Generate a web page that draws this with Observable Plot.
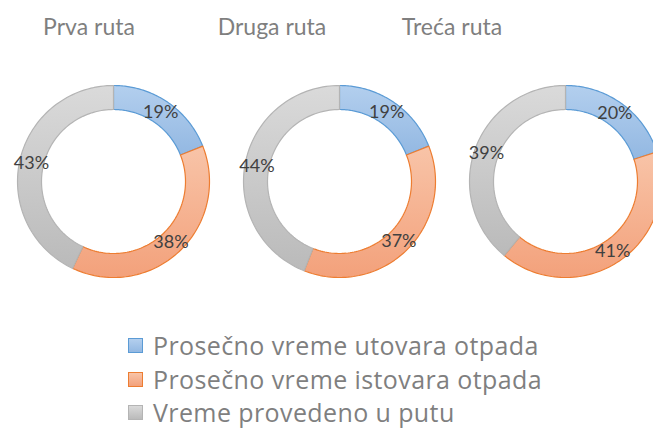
<!DOCTYPE html>
<html>
<head>
<meta charset="utf-8">
<script src="https://cdn.jsdelivr.net/npm/d3@7"></script>
<script src="https://cdn.jsdelivr.net/npm/@observablehq/plot@0.6"></script>
<style>
  html, body { margin: 0; padding: 0; background: #fff; }
  #wrap { position: relative; width: 653px; height: 428px; overflow: hidden; }
  #titles span { position: absolute; top: 12px; transform: translateX(-50%); font-family: Lato, sans-serif; font-size: 23px; color: #7f7f7f; white-space: nowrap; }
  #chart { position: absolute; left: 0; top: 0; width: 700px; }
  #chart svg { max-width: none !important; }
  #legend { position: absolute; left: 128px; top: 329px; font-family: "Open Sans", sans-serif; font-size: 25px; letter-spacing: 0.4px; color: #7f7f7f; }
  .row { display: flex; align-items: center; height: 33.5px; white-space: nowrap; }
  .row span { line-height: 1; }
  .sw { width: 13px; height: 13px; border: 1.5px solid; margin-right: 10px; box-sizing: content-box; flex: none; }
</style>
</head>
<body>
<div id="wrap">
  <div id="titles"></div>
  <div id="chart"></div>
  <div id="legend"></div>
</div>
<script>
// ---- data ----
const routes = ["Prva ruta", "Druga ruta", "Treća ruta"];
const categories = ["Prosečno vreme utovara otpada", "Prosečno vreme istovara otpada", "Vreme provedeno u putu"];
const utovar = [19, 19, 20];
const istovar = [38, 37, 41];
const put = [43, 44, 39];

// ---- styles ----
const fillTop = ["#b3cfee", "#f8c4a8", "#dadada"];
const fillBottom = ["#93b8e2", "#f3a17b", "#bababa"];
const strokes = ["#5b9bd5", "#ed7d31", "#b4b4b4"];
const titleCenters = [89, 272, 452];
const R0 = 0.75, R1 = 1;

// ---- build slices ----
const series = [utovar, istovar, put];
const pie = d3.pie().sort(null).value(d => d.v);
const points = [];
const labels = [];
routes.forEach((route, ri) => {
  const vals = categories.map((c, ci) => ({cat: c, ci, v: series[ci][ri]}));
  pie(vals).forEach(a => {
    const key = route + "|" + a.data.cat;
    const n = 80;
    const pts = [];
    for (let i = 0; i <= n; i++) {
      const t = a.startAngle + (a.endAngle - a.startAngle) * i / n;
      pts.push([R1 * Math.sin(t), R1 * Math.cos(t)]);
    }
    for (let i = n; i >= 0; i--) {
      const t = a.startAngle + (a.endAngle - a.startAngle) * i / n;
      pts.push([R0 * Math.sin(t), R0 * Math.cos(t)]);
    }
    pts.push(pts[0]);
    pts.forEach(([x, y]) => points.push({route, cat: a.data.cat, ci: a.data.ci, key, x, y}));
    const m = (a.startAngle + a.endAngle) / 2, rm = (R0 + R1) / 2;
    labels.push({route, x: rm * Math.sin(m), y: rm * Math.cos(m), text: a.data.v + "%"});
  });
});

const W = 678, H = 300, mt = 85, mb = 23;
const plotH = H - mt - mb;
const facetW = W / routes.length;
const xr = facetW / plotH;

const defs = () => {
  const d = d3.create("svg:defs");
  categories.forEach((c, i) => {
    const g = d.append("linearGradient").attr("id", "grad" + i).attr("x1", 0).attr("y1", 0).attr("x2", 0).attr("y2", 1);
    g.append("stop").attr("offset", "0%").attr("stop-color", fillTop[i]);
    g.append("stop").attr("offset", "100%").attr("stop-color", fillBottom[i]);
  });
  return d.node();
};

const chart = Plot.plot({
  width: W, height: H,
  marginLeft: 0, marginRight: 0, marginTop: mt, marginBottom: mb,
  style: {maxWidth: "none"},
  fx: {domain: routes, padding: 0, axis: null, label: null},
  x: {domain: [-xr, xr], axis: null},
  y: {domain: [-1, 1], axis: null},
  marks: [
    defs,
    ...categories.map((c, i) => Plot.line(points.filter(p => p.ci === i), {
      fx: "route", x: "x", y: "y", z: "key",
      fill: `url(#grad${i})`, stroke: strokes[i], strokeWidth: 1.2, curve: "linear"
    })),
    Plot.text(labels, {fx: "route", x: "x", y: "y", text: "text", fill: "#404040",
      fontSize: 18, fontFamily: "Lato, sans-serif"})
  ]
});
chart.style.maxWidth = "none";
document.getElementById("chart").appendChild(chart);

const titles = document.getElementById("titles");
routes.forEach((r, i) => {
  const s = document.createElement("span");
  s.textContent = r;
  s.style.left = titleCenters[i] + "px";
  titles.appendChild(s);
});

const legend = document.getElementById("legend");
categories.forEach((c, i) => {
  const row = document.createElement("div");
  row.className = "row";
  const sw = document.createElement("div");
  sw.className = "sw";
  sw.style.borderColor = strokes[i];
  sw.style.background = `linear-gradient(${fillTop[i]}, ${fillBottom[i]})`;
  const t = document.createElement("span");
  t.textContent = c;
  row.appendChild(sw);
  row.appendChild(t);
  legend.appendChild(row);
});
</script>
</body>
</html>
